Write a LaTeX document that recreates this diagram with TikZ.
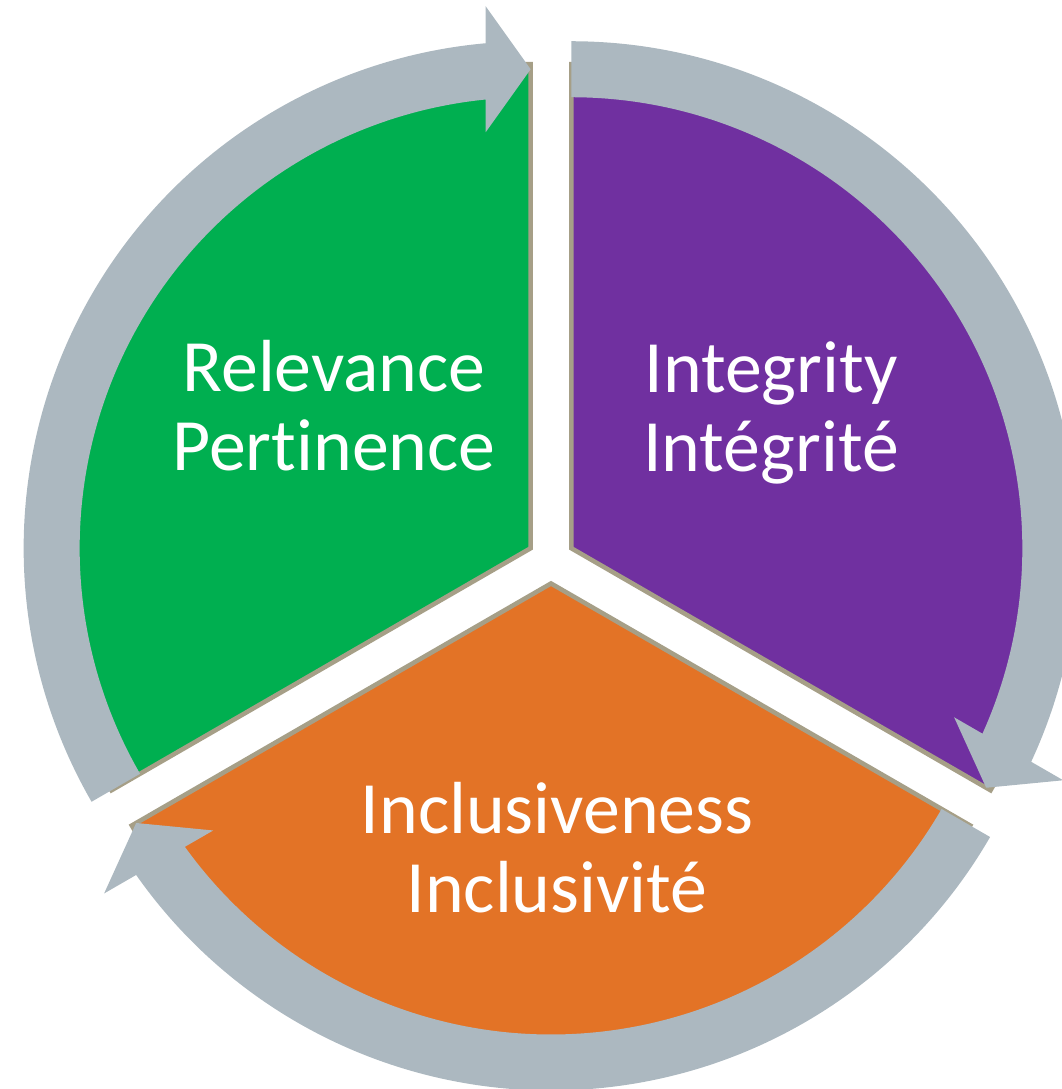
\documentclass[tikz,border=0pt]{standalone}
\usepackage{fontspec}
\setmainfont[Ligatures=NoCommon]{Carlito}
\usetikzlibrary{calc}
\definecolor{relgreen}{HTML}{00AF50}
\definecolor{intpurple}{HTML}{7030A0}
\definecolor{incorange}{HTML}{E37326}
\definecolor{arrowgrey}{HTML}{ACB8C0}
\definecolor{sectorrim}{HTML}{A69F87}
\tikzset{
    sector/.style={fill=#1, draw=sectorrim, line width=1.3pt},
    cyclearrow/.style={fill=arrowgrey},
    valuetext/.style={text=white, align=center, font=\fontsize{21}{22.5}\selectfont}
}

\begin{document}
\begin{tikzpicture}
\useasboundingbox (-5.51,-5.29) rectangle (5.10,5.60);
\def\sectrad{4.84}
\def\arrmid{4.79}
\def\arrout{5.07}
\def\arrin{4.51}
\def\headhalf{0.63}
\def\headlen{0.45}
\foreach \rot/\col in {0/relgreen, -120/intpurple, 120/incorange}{
    \begin{scope}[rotate=\rot, shift={(150:0.235)}]
    \filldraw[sector=\col] (0,0) -- (90:\sectrad) arc[start angle=90, end angle=210, radius=\sectrad] -- cycle;
    \fill[cyclearrow] (210:\arrout) arc[start angle=210, end angle={90+asin(\headlen/\arrout)}, radius=\arrout]
        -- (-\headlen,\arrmid+\headhalf) -- (0,\arrmid) -- (-\headlen,\arrmid-\headhalf)
        -- ({90+asin(\headlen/\arrin)}:\arrin) arc[start angle={90+asin(\headlen/\arrin)}, end angle=210, radius=\arrin] -- cycle;
    \end{scope}
}
\node[valuetext] (rel) at (-2.17,1.545) {Relevance\\Pertinence};
\node[valuetext] (int) at (2.20,1.472) {Integrity\\Intégrité};
\node[valuetext] (inc) at (0.06,-2.88) {Inclusiveness\\Inclusivité};
\end{tikzpicture}
\end{document}
